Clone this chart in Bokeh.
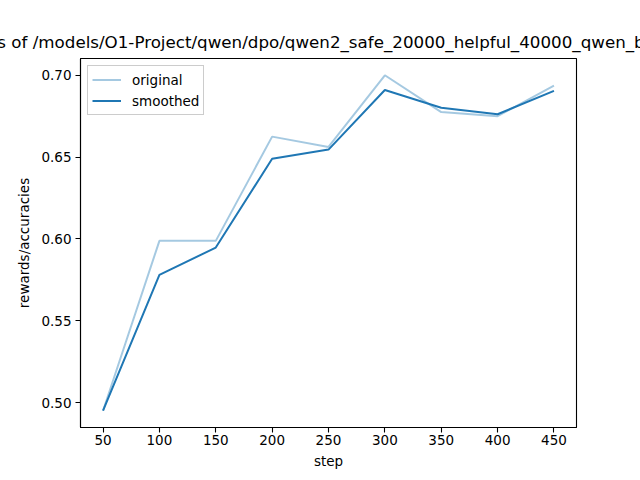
from bokeh.plotting import figure
from bokeh.models import FixedTicker, NumeralTickFormatter, Range1d, Legend, LegendItem
from bokeh.embed import file_html
from bokeh.resources import INLINE

steps = [50, 100, 150, 200, 250, 300, 350, 400, 450]
original = [0.495, 0.5988, 0.5988, 0.6625, 0.6562, 0.7000, 0.6775, 0.6750, 0.6937]
smoothed = [0.495, 0.5780, 0.5947, 0.6490, 0.6546, 0.6910, 0.6802, 0.6762, 0.6905]
y_ticks = [0.50, 0.55, 0.60, 0.65, 0.70]
x_ticks = steps
title_text = "rewards/accuracies of /models/O1-Project/qwen/dpo/qwen2_safe_20000_helpful_40000_qwen_beta_0.1_lr_5e-7_ep3"
FONT = "DejaVu Sans"

p = figure(width=640, height=480, output_backend="svg", toolbar_location=None,
           x_range=Range1d(30, 470), y_range=Range1d(0.48475, 0.71025),
           min_border_left=80, min_border_right=64, min_border_top=58, min_border_bottom=53,
           title=title_text)
p.title.align = "center"
p.title.text_font = FONT
p.title.text_font_size = "16.7px"
p.title.text_font_style = "normal"
p.title.text_color = "black"
p.title.standoff = 14

p.grid.visible = False
p.outline_line_color = "black"
p.outline_line_width = 1.1
p.background_fill_color = "white"
p.border_fill_color = "white"

for ax in (p.xaxis[0], p.yaxis[0]):
    ax.major_label_text_font = FONT
    ax.major_label_text_font_size = "13.5px"
    ax.major_label_text_color = "black"
    ax.axis_label_text_font = FONT
    ax.axis_label_text_font_size = "13.5px"
    ax.axis_label_text_font_style = "normal"
    ax.axis_label_text_color = "black"
    ax.major_tick_in = 0
    ax.major_tick_out = 5
    ax.minor_tick_line_color = None
    ax.axis_line_color = "black"
    ax.axis_line_width = 1.1
    ax.major_tick_line_width = 1.1

p.xaxis[0].major_label_standoff = 2
p.yaxis[0].major_label_standoff = 4
p.xaxis[0].ticker = FixedTicker(ticks=x_ticks)
p.yaxis[0].ticker = FixedTicker(ticks=y_ticks)
p.yaxis[0].formatter = NumeralTickFormatter(format="0.00")
p.xaxis[0].axis_label = "step"
p.yaxis[0].axis_label = "rewards/accuracies"
p.xaxis[0].axis_label_standoff = 5
p.yaxis[0].axis_label_standoff = 6

r1 = p.line(steps, original, line_color="#1f77b4", line_alpha=0.4, line_width=2)
r2 = p.line(steps, smoothed, line_color="#1f77b4", line_width=2)

legend = Legend(items=[LegendItem(label="original", renderers=[r1]),
                       LegendItem(label="smoothed", renderers=[r2])],
                location="top_left")
legend.label_text_font = FONT
legend.label_text_font_size = "13.5px"
legend.label_text_color = "black"
legend.border_line_color = "#cccccc"
legend.border_line_alpha = 1
legend.margin = 7
legend.padding = 4
legend.spacing = 2
legend.glyph_width = 29
legend.label_standoff = 11
legend.label_height = 19
legend.glyph_height = 19
p.add_layout(legend)

open("out.html", "w").write(file_html(p, INLINE))
